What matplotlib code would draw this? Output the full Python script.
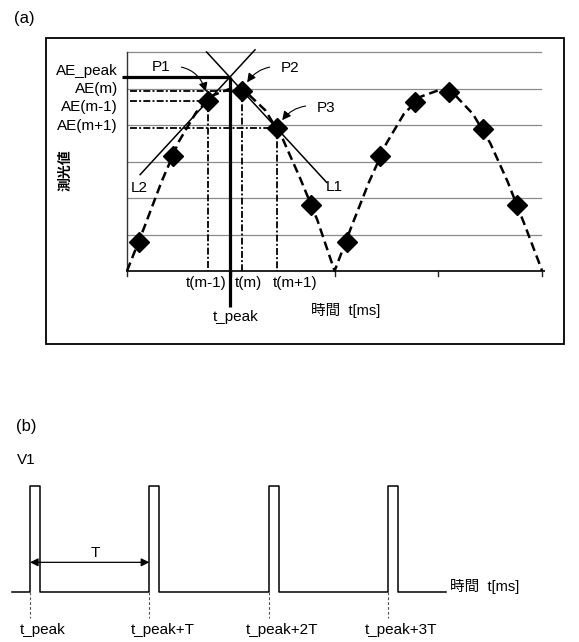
import numpy as np
import matplotlib
matplotlib.use("Agg")
import matplotlib.pyplot as plt
from matplotlib.patches import Rectangle

plt.rcParams["font.family"] = ["Liberation Sans", "Noto Sans CJK JP", "DejaVu Sans"]
plt.rcParams["lines.scale_dashes"] = False

# ---- data, panel (a): sample index units on x, grid units on y
sample_t = [0.35, 1.34, 2.34, 3.33, 4.33, 5.33, 6.36, 7.31, 8.32, 9.30, 10.29, 11.28]
sample_v = [0.79, 3.15, 4.66, 4.94, 3.91, 1.82, 0.80, 3.15, 4.64, 4.91, 3.88, 1.82]
curve_t = [0.0, 0.5, 1.0, 1.5, 2.0, 2.5, 3.0, 3.5, 4.0, 4.5, 5.0, 5.5, 6.0,
           6.5, 7.0, 7.5, 8.0, 8.5, 9.0, 9.5, 10.0, 10.5, 11.0, 11.5, 12.0]
curve_v = [0.0, 1.2, 2.45, 3.55, 4.35, 4.82, 5.0, 4.85, 4.4, 3.62, 2.55, 1.4, 0.0,
           1.25, 2.45, 3.5, 4.3, 4.78, 4.95, 4.8, 4.3, 3.5, 2.45, 1.25, 0.0]
grid_levels = [1, 2, 3, 4, 5, 6]
x_ticks = [0, 3, 6, 9, 12]
m = 3  # index of P2 = AE(m)

# ---- data, panel (b): time in units of T
pulse_starts = [0, 1, 2, 3]
pulse_width = 0.084
pulse_labels = ["t_peak", "t_peak+T", "t_peak+2T", "t_peak+3T"]

W, H = 579, 642
fig = plt.figure(figsize=(W / 100, H / 100), dpi=100)


def fx(px):
    return px / W


def fy(py):
    return 1 - py / H


FS = 11

# ---------------- panel (a)
x0, sx = 127, 34.6
y0, sy = 271, 36.5
ax = fig.add_axes([0, 0, 1, 1])
ax.set_xlim(-x0 / sx, (W - x0) / sx)
ax.set_ylim((y0 - H) / sy, y0 / sy)
ax.axis("off")

fig.patches.append(Rectangle((fx(45.5), fy(344)), fx(563.5) - fx(45.5), fy(38) - fy(344),
                             transform=fig.transFigure, fill=False, lw=1.3, ec="black"))

for g in grid_levels:
    ax.plot([0, 11.97], [g, g], color="#8a8a8a", lw=0.9)
ax.plot([0, 0], [0, 6], color="#333333", lw=1.0)
ax.plot([0, 12.05], [0, 0], color="#222222", lw=1.4)
for xt in x_ticks:
    ax.plot([xt, xt], [0, -0.15], color="#222222", lw=1.0)

ax.plot(curve_t, curve_v, color="black", lw=1.8, ls=(0, (6.5, 3.5)))
ax.plot(sample_t, sample_v, ls="none", marker="D", ms=10, color="black")

t1, v1 = sample_t[m - 1], sample_v[m - 1]
t2, v2 = sample_t[m], sample_v[m]
t3, v3 = sample_t[m + 1], sample_v[m + 1]
slope = (v3 - v2) / (t3 - t2)
t_peak = (v1 - v2 + slope * (t1 + t2)) / (2 * slope)
ae_peak = v2 + slope * (t_peak - t2)

l1_t = np.array([2.30, 5.77])
l2_t = np.array([0.38, 3.70])
ax.plot(l1_t, v2 + slope * (l1_t - t2), color="black", lw=1.1)
ax.plot(l2_t, v1 - slope * (l2_t - t1), color="black", lw=1.1)

dd = (0, (5, 1.6, 1.4, 1.6))
for tt, vv in [(t1, v1), (t2, v2), (t3, v3)]:
    ax.plot([0.1, tt], [vv, vv], color="black", lw=1.3, ls=dd)
    ax.plot([tt, tt], [vv, 0], color="black", lw=1.3, ls=dd)

ax.plot([-0.15, t_peak], [ae_peak, ae_peak], color="black", lw=2.3, solid_capstyle="butt")
ax.plot([t_peak, t_peak], [ae_peak, -0.99], color="black", lw=2.3, solid_capstyle="butt")

fig.text(fx(24), fy(19), "(a)", fontsize=FS + 1, ha="center", va="center")
for lab, py in [("AE_peak", 71), ("AE(m)", 89), ("AE(m-1)", 107), ("AE(m+1)", 126)]:
    fig.text(fx(118), fy(py), lab, fontsize=FS, ha="right", va="center")
fig.text(fx(66), fy(170), "測光値", fontsize=FS - 1, fontweight="bold",
         ha="center", va="center", rotation=90)
fig.text(fx(334), fy(187), "L1", fontsize=FS, ha="center", va="center")
fig.text(fx(139), fy(188), "L2", fontsize=FS, ha="center", va="center")
for lab, px in [("t(m-1)", 206), ("t(m)", 248), ("t(m+1)", 295)]:
    fig.text(fx(px), fy(283), lab, fontsize=FS, ha="center", va="center")
fig.text(fx(236), fy(317), "t_peak", fontsize=FS, ha="center", va="center")
fig.text(fx(346), fy(311), "時間  t[ms]", fontsize=FS - 0.5, ha="center", va="center")

for lab, (tt, vv), (px, py), rad in [("P1", (t1, v1), (161, 67), -0.5),
                                     ("P2", (t2, v2), (290, 68), 0.4),
                                     ("P3", (t3, v3), (326, 108), 0.4)]:
    ax.annotate(lab, xy=(tt, vv), xytext=(fx(px), fy(py)), textcoords="figure fraction",
                fontsize=FS, ha="center", va="center",
                arrowprops=dict(arrowstyle="-|>", color="black", lw=0.8,
                                connectionstyle=f"arc3,rad={rad}",
                                shrinkA=6, shrinkB=7, mutation_scale=13))

# ---------------- panel (b)
bx0, bsx = 30, 119.3
by0, bsy = 592.3, 106.3
bx = fig.add_axes([0, 0, 1, 1])
bx.patch.set_alpha(0)
bx.set_xlim(-bx0 / bsx, (W - bx0) / bsx)
bx.set_ylim((by0 - H) / bsy, by0 / bsy)
bx.axis("off")

wave_t = [-0.153]
wave_v = [0]
for s in pulse_starts:
    wave_t += [s, s, s + pulse_width, s + pulse_width]
    wave_v += [0, 1, 1, 0]
wave_t.append(3.49)
wave_v.append(0)
bx.plot(wave_t, wave_v, color="black", lw=1.1)

for s, lab in zip(pulse_starts, pulse_labels):
    bx.plot([s, s], [0, -0.245], color="#555555", lw=0.8, ls=(0, (2, 1.5)))
    bx.text(s + 0.11, (by0 - 630) / bsy, lab, fontsize=FS, ha="center", va="center")

bx.annotate("", xy=(pulse_starts[1], 0.282), xytext=(pulse_starts[0], 0.282),
            arrowprops=dict(arrowstyle="<|-|>", color="black", lw=0.9,
                            shrinkA=0, shrinkB=0, mutation_scale=12))
fig.text(fx(95), fy(553), "T", fontsize=FS, ha="center", va="center")
fig.text(fx(26), fy(426), "(b)", fontsize=FS + 1, ha="center", va="center")
fig.text(fx(26), fy(460), "V1", fontsize=FS, ha="center", va="center")
fig.text(fx(450), fy(586), "時間  t[ms]", fontsize=FS - 0.5, ha="left", va="center")

fig.savefig("out.png", dpi=100)
